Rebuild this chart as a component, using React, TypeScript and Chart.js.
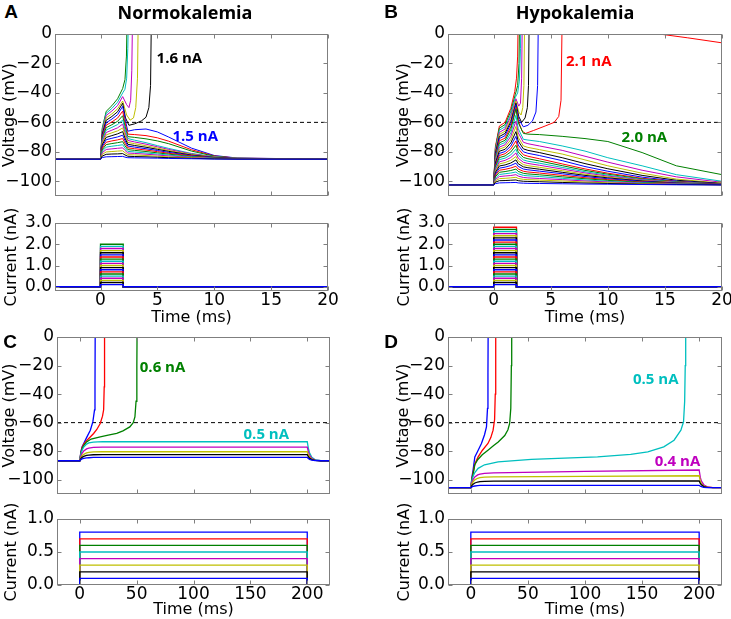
import React, { useEffect, useRef } from "react";
import { Chart, registerables } from "chart.js";
Chart.register(...registerables);

// ---------- styling constants ----------
const TICK_FONT = { family: "'DejaVu Sans', sans-serif", size: 17 };
const TITLE_FONT = { family: "'DejaVu Sans', sans-serif", size: 16 };
const NOTE_FONT = "bold 15px 'Open Sans', sans-serif";
const FRAME_COLOR = "#7f7f7f";
const TEXT_COLOR = "#000000";
// colour order for ascending current steps
const CYCLE = ["#0000ff", "#000000", "#bfbf00", "#bf00bf", "#00bfbf", "#008000", "#ff0000"];

const THRESHOLD = -60;

// ---------- tick labels ----------
const V_TICKS = [0, -20, -40, -60, -80, -100];
const I_TICKS_AB = [0, 1, 2, 3];
const I_TICKS_CD = [0, 0.5, 1];
const T_TICKS_AB = [0, 5, 10, 15, 20];
const T_TICKS_CD = [0, 50, 100, 150, 200];

// ---------- current steps ----------
const A_CURRENTS = [0.1, 0.2, 0.3, 0.4, 0.5, 0.6, 0.7, 0.8, 0.9, 1.0, 1.1, 1.2, 1.3, 1.4, 1.5, 1.6, 1.7, 1.8, 1.9, 2.0];
const B_CURRENTS = [0.1, 0.2, 0.3, 0.4, 0.5, 0.6, 0.7, 0.8, 0.9, 1.0, 1.1, 1.2, 1.3, 1.4, 1.5, 1.6, 1.7, 1.8, 1.9, 2.0, 2.1, 2.2, 2.3, 2.4, 2.5, 2.6, 2.7, 2.8];
const C_CURRENTS = [0.1, 0.2, 0.3, 0.4, 0.5, 0.6, 0.7, 0.8];
const D_CURRENTS = [0.1, 0.2, 0.3, 0.4, 0.5, 0.6, 0.7, 0.8];
const SHORT_PULSE = [0, 2];
const LONG_PULSE = [0, 200];

// ---------- Panel A (normokalemia, 2 ms pulse) ----------
const A_TIMES = [-4, 0, 0.15, 0.5, 1.0, 1.5, 1.95, 2.15, 2.4, 3, 4, 5, 6, 8, 10, 12, 20];
const A_V01 = [-85, -85, -83.9, -83.4, -83.3, -83.2, -83.1, -83.6, -84.0, -84.1, -84.2, -84.3, -84.5, -84.7, -84.9, -85.0, -85];
const A_V02 = [-85, -85, -82.9, -81.7, -81.5, -81.4, -81.2, -82.1, -83.0, -83.2, -83.4, -83.7, -84.0, -84.4, -84.8, -84.9, -85];
const A_V03 = [-85, -85, -81.8, -80.1, -79.8, -79.5, -79.3, -80.6, -81.9, -82.1, -82.5, -83.0, -83.4, -84.1, -84.6, -84.9, -85];
const A_V04 = [-85, -85, -80.7, -78.4, -78.0, -77.6, -77.3, -79.0, -80.8, -81.1, -81.6, -82.2, -82.8, -83.8, -84.5, -84.8, -85];
const A_V05 = [-85, -85, -79.6, -76.8, -76.2, -75.7, -75.2, -77.5, -79.7, -80.1, -80.8, -81.5, -82.2, -83.5, -84.4, -84.8, -85];
const A_V06 = [-85, -85, -78.6, -75.1, -74.4, -73.8, -73.1, -75.8, -78.5, -79.0, -79.8, -80.7, -81.6, -83.2, -84.2, -84.7, -85];
const A_V07 = [-85, -85, -77.5, -73.5, -72.6, -71.9, -71.0, -74.1, -77.3, -77.9, -78.8, -79.9, -81.0, -82.8, -84.1, -84.7, -85];
const A_V08 = [-85, -85, -76.4, -71.8, -70.8, -69.9, -68.7, -72.4, -76.1, -76.8, -77.9, -79.1, -80.4, -82.5, -83.9, -84.6, -85];
const A_V09 = [-85, -85, -75.3, -70.2, -69.0, -67.8, -66.3, -70.6, -74.9, -75.7, -76.9, -78.3, -79.7, -82.2, -83.8, -84.6, -85];
const A_V10 = [-85, -85, -74.3, -68.5, -67.1, -65.8, -63.8, -68.7, -73.6, -74.5, -75.9, -77.5, -79.1, -81.8, -83.6, -84.5, -85];
const A_V11 = [-85, -85, -73.2, -66.9, -65.3, -63.7, -61.2, -66.8, -72.3, -73.3, -74.8, -76.6, -78.4, -81.4, -83.5, -84.5, -85];
const A_V12 = [-85, -85, -72.1, -65.2, -63.4, -61.5, -58.4, -64.7, -71.0, -72.1, -73.8, -75.8, -77.7, -81.1, -83.3, -84.4, -85];
const A_V13 = [-85, -85, -71.1, -63.6, -61.6, -59.3, -55.5, -62.6, -69.7, -70.2, -71.2, -72.6, -74.5, -79.5, -83.0, -84.4, -85];
const A_V14 = [-85, -85, -70.0, -61.9, -59.7, -57.1, -52.4, -60.2, -68.0, -68.3, -69.0, -70.5, -72.8, -78.6, -82.8, -84.3, -85];
const A_V15 = [-85, -85, -68.9, -60.3, -57.8, -54.8, -49.1, -57.5, -66.0, -65.0, -64.5, -66.5, -70.0, -77.5, -82.5, -84.2, -85];
const A_S16 = [[-4, -85], [0, -85], [0.15, -68.0], [0.5, -58.6], [1.0, -56.0], [1.5, -52.8], [1.95, -47.0], [2.2, -57.0], [2.5, -62.0], [3.0, -61.0], [3.6, -59.0], [4.0, -56.5], [4.25, -50], [4.4, -35], [4.5, 30]];
const A_S17 = [[-4, -85], [0, -85], [0.15, -67.0], [0.5, -57.0], [1.0, -54.2], [1.5, -50.8], [1.95, -45.5], [2.3, -55.0], [2.6, -58.5], [2.9, -57.0], [3.1, -50], [3.25, -30], [3.35, 30]];
const A_S18 = [[-4, -85], [0, -85], [0.15, -66.0], [0.5, -55.3], [1.0, -52.3], [1.5, -48.6], [1.95, -42.5], [2.3, -48.0], [2.5, -50.0], [2.65, -45], [2.75, -25], [2.85, 30]];
const A_S19 = [[-4, -85], [0, -85], [0.15, -65.0], [0.5, -53.9], [1.0, -50.5], [1.5, -46.3], [1.95, -40.0], [2.15, -37.5], [2.3, -30], [2.4, -10], [2.5, 30]];
const A_S20 = [[-4, -85], [0, -85], [0.15, -64.0], [0.5, -52.5], [1.0, -48.7], [1.5, -44.0], [1.95, -37.0], [2.15, -31], [2.28, -15], [2.38, 30]];

// ---------- Panel B (hypokalemia, 2 ms pulse) ----------
const B_TIMES = [-4, 0, 0.15, 0.5, 1.0, 1.5, 1.95, 2.15, 2.6, 3, 4, 6, 8, 10, 13, 16, 20];
const B_V01 = [-102.5, -102.5, -101.6, -101.1, -101.0, -100.9, -100.8, -101.1, -101.3, -101.4, -101.5, -101.7, -101.9, -102.0, -102.2, -102.4, -102.5];
const B_V02 = [-102.5, -102.5, -100.6, -99.6, -99.5, -99.3, -99.1, -99.6, -100.0, -100.1, -100.3, -100.8, -101.2, -101.5, -102.0, -102.2, -102.4];
const B_V03 = [-102.5, -102.5, -99.7, -98.2, -98.0, -97.7, -97.3, -98.1, -98.7, -98.9, -99.2, -99.8, -100.5, -101.0, -101.7, -102.1, -102.4];
const B_V04 = [-102.5, -102.5, -98.8, -96.8, -96.4, -96.1, -95.5, -96.5, -97.4, -97.7, -98.1, -98.9, -99.8, -100.5, -101.4, -101.9, -102.4];
const B_V05 = [-102.5, -102.5, -97.9, -95.4, -94.9, -94.4, -93.7, -94.9, -96.0, -96.3, -96.8, -98.0, -99.1, -100.0, -101.1, -101.8, -102.3];
const B_V06 = [-102.5, -102.5, -96.9, -93.9, -93.4, -92.7, -91.7, -93.3, -94.6, -95.0, -95.6, -97.0, -98.3, -99.4, -100.8, -101.6, -102.3];
const B_V07 = [-102.5, -102.5, -96.0, -92.5, -91.9, -91.0, -89.8, -91.7, -93.2, -93.7, -94.4, -96.0, -97.6, -98.9, -100.5, -101.5, -102.2];
const B_V08 = [-102.5, -102.5, -95.1, -91.1, -90.4, -89.3, -87.7, -89.9, -91.7, -92.2, -93.1, -94.9, -96.8, -98.3, -100.1, -101.3, -102.2];
const B_V09 = [-102.5, -102.5, -94.1, -89.6, -88.9, -87.6, -85.5, -88.1, -90.2, -90.8, -91.8, -93.9, -96.0, -97.7, -99.8, -101.2, -102.1];
const B_V10 = [-102.5, -102.5, -93.2, -88.2, -87.3, -85.8, -83.2, -86.2, -88.7, -89.4, -90.5, -92.8, -95.2, -97.1, -99.5, -101.0, -102.1];
const B_V11 = [-102.5, -102.5, -92.3, -86.8, -85.8, -83.9, -80.8, -84.3, -87.1, -87.9, -89.1, -91.7, -94.3, -96.5, -99.1, -100.8, -102.0];
const B_V12 = [-102.5, -102.5, -91.4, -85.3, -84.3, -82.1, -78.2, -82.2, -85.5, -86.4, -87.7, -90.6, -93.5, -95.9, -98.8, -100.6, -102.0];
const B_V13 = [-102.5, -102.5, -90.4, -83.9, -82.8, -80.1, -75.5, -80.1, -83.8, -84.7, -86.2, -89.4, -92.6, -95.2, -98.4, -100.4, -101.9];
const B_V14 = [-102.5, -102.5, -89.5, -82.5, -81.3, -78.1, -72.6, -77.8, -82.0, -83.0, -84.7, -88.2, -91.6, -94.5, -98.0, -100.2, -101.9];
const B_V15 = [-102.5, -102.5, -88.6, -81.1, -79.8, -76.1, -69.5, -75.4, -80.0, -81.0, -82.5, -86.0, -90.0, -93.2, -97.2, -99.9, -101.7];
const B_V16 = [-102.5, -102.5, -87.6, -79.6, -78.3, -74.0, -66.3, -72.7, -78.0, -79.0, -80.5, -84.0, -88.0, -91.5, -96.0, -99.3, -101.5];
const B_V17 = [-102.5, -102.5, -86.7, -78.2, -76.7, -71.8, -62.8, -70.1, -76.0, -77.0, -78.5, -81.5, -85.5, -89.5, -94.5, -98.5, -101.3];
const B_V18 = [-102.5, -102.5, -85.8, -76.8, -75.2, -69.5, -59.1, -67.0, -73.5, -74.5, -76.0, -79.0, -83.0, -87.0, -92.5, -97.0, -100.7];
const B_V19 = [-102.5, -102.5, -84.8, -75.3, -73.7, -67.2, -55.2, -64.2, -71.5, -72.0, -73.0, -76.0, -79.5, -84.0, -89.5, -95.5, -100.0];
const B_V20 = [-102.5, -102.5, -83.9, -73.9, -72.2, -64.8, -51.0, -60.1, -67.5, -68.0, -68.3, -69.5, -71.0, -73.0, -80.5, -89.5, -95.5];
const B_S21 = [[-4, -102.5], [0, -102.5], [0.15, -83.0], [0.5, -72.5], [1.0, -70.7], [1.5, -63.0], [1.95, -50.0], [2.2, -60.0], [2.5, -66.0], [2.8, -67.5], [3.5, -65.5], [4.5, -62.5], [5.3, -60.0], [5.7, -56.0], [5.9, -45.0], [6.05, 40], [10, 22], [14.5, 0], [17, -2.6], [20, -6]];
const B_S22 = [[-4, -102.5], [0, -102.5], [0.15, -82.0], [0.5, -71.0], [1.0, -69.0], [1.5, -61.0], [1.95, -48.0], [2.2, -58.0], [2.6, -63.0], [3.0, -62.0], [3.4, -59.0], [3.7, -53.0], [3.85, -35.0], [3.95, 40]];
const B_S23 = [[-4, -102.5], [0, -102.5], [0.15, -81.0], [0.5, -69.6], [1.0, -67.5], [1.5, -59.5], [1.95, -47.0], [2.2, -56.0], [2.45, -60.0], [2.75, -57.0], [2.95, -50.0], [3.05, -35.0], [3.15, 40]];
const B_S24 = [[-4, -102.5], [0, -102.5], [0.15, -80.2], [0.5, -68.2], [1.0, -66.0], [1.5, -58.0], [1.95, -45.5], [2.2, -53.0], [2.4, -55.0], [2.55, -50.0], [2.65, -35.0], [2.75, 40]];
const B_S25 = [[-4, -102.5], [0, -102.5], [0.15, -79.3], [0.5, -66.8], [1.0, -64.5], [1.5, -56.0], [1.95, -44.0], [2.2, -49.0], [2.35, -47.0], [2.45, -30.0], [2.55, 40]];
const B_S26 = [[-4, -102.5], [0, -102.5], [0.15, -78.3], [0.5, -65.3], [1.0, -63.0], [1.5, -54.5], [1.9, -43.0], [2.1, -40.0], [2.25, -32.0], [2.35, -10.0], [2.42, 40]];
const B_S27 = [[-4, -102.5], [0, -102.5], [0.15, -77.4], [0.5, -63.9], [1.0, -61.5], [1.5, -52.5], [1.9, -41.0], [2.1, -35.0], [2.22, -20.0], [2.32, 40]];
const B_S28 = [[-4, -102.5], [0, -102.5], [0.15, -76.5], [0.5, -62.5], [1.0, -60.0], [1.5, -50.5], [1.85, -39.0], [2.0, -30.0], [2.1, -15.0], [2.2, 40]];

// ---------- Panels C and D (200 ms pulse) ----------
const CD_TIMES = [-20, 0, 1, 2, 3.5, 6, 8, 12, 20, 100, 200, 201, 202, 204, 207, 212, 220];
const C_V01 = [-86.7, -86.7, -85.9, -85.4, -85.0, -84.7, -84.6, -84.4, -84.4, -84.4, -84.4, -85.2, -85.7, -86.3, -86.6, -86.7, -86.7];
const C_V02 = [-86.7, -86.7, -85.2, -84.3, -83.6, -83.0, -82.7, -82.5, -82.4, -82.4, -82.4, -83.9, -84.9, -85.9, -86.5, -86.7, -86.7];
const C_V03 = [-86.7, -86.7, -84.5, -83.2, -82.2, -81.2, -80.8, -80.5, -80.4, -80.4, -80.4, -82.6, -84.1, -85.6, -86.4, -86.7, -86.7];
const C_V04 = [-86.7, -86.7, -83.4, -81.5, -79.9, -78.4, -77.9, -77.4, -77.2, -77.2, -77.2, -80.5, -82.7, -85.0, -86.2, -86.7, -86.7];
const C_V05 = [-86.7, -86.7, -82.0, -79.3, -77.1, -75.0, -74.2, -73.6, -73.3, -73.4, -73.3, -78.0, -81.1, -84.3, -86.0, -86.7, -86.7];
const C_S06 = [[-20, -86.7], [0, -86.7], [1, -81.5], [2, -78.5], [3.5, -76.0], [6, -73.5], [10, -71.5], [18, -70.0], [25, -68.8], [32.5, -67.5], [38, -65.8], [44, -63.0], [47, -60.0], [48.5, -56.0], [49.5, -45.0], [50.2, -20.0], [50.6, 30]];
const C_S07 = [[-20, -86.7], [0, -86.7], [1, -81.0], [2, -77.5], [3.5, -75.0], [6.4, -72.3], [9, -70.2], [12.2, -67.6], [15, -64.8], [18, -60.6], [20, -55.5], [21, -51.0], [21.5, -35.0], [21.8, 30]];
const C_S08 = [[-20, -86.7], [0, -86.7], [1, -80.5], [2, -77.0], [3.5, -74.6], [6, -70.5], [9.3, -65.3], [11.5, -59.5], [13, -51.0], [13.4, -35.0], [13.7, 30]];

const D_V01 = [-105.6, -105.6, -105.0, -104.7, -104.4, -104.1, -104.0, -103.9, -103.9, -103.9, -103.9, -104.5, -104.9, -105.3, -105.5, -105.6, -105.6];
const D_V02 = [-105.6, -105.6, -104.0, -103.1, -102.3, -101.6, -101.3, -101.1, -101.0, -100.9, -100.8, -102.6, -103.6, -104.8, -105.4, -105.6, -105.6];
const D_V03 = [-105.6, -105.6, -102.9, -101.4, -100.1, -99.0, -98.5, -98.2, -98.0, -97.6, -97.2, -100.9, -102.9, -104.4, -105.2, -105.6, -105.6];
const D_V04 = [-105.6, -105.6, -101.8, -99.8, -98.0, -96.6, -96.0, -95.5, -95.2, -94.2, -93.2, -98.4, -101.0, -103.5, -104.9, -105.6, -105.6];
const D_S05 = [[-20, -105.6], [0, -105.6], [1, -100.5], [2, -97.5], [3.5, -95.0], [6.4, -92.0], [12, -89.5], [23.9, -87.5], [53, -85.8], [111, -84.0], [140, -82.2], [155, -80.5], [169, -77.0], [178, -72.3], [184, -65.3], [186.3, -59.4], [187.3, -45.0], [187.8, -20.0], [188.2, 30]];
const D_S06 = [[-20, -105.6], [0, -105.6], [1, -99.5], [2, -96.0], [3.5, -89.5], [6, -86.0], [10, -82.5], [15, -79.3], [20, -76.0], [24, -73.5], [29.7, -69.0], [32.5, -65.0], [34, -60.6], [35, -50.0], [35.5, -20.0], [35.8, 30]];
const D_S07 = [[-20, -105.6], [0, -105.6], [1, -99.0], [2, -95.0], [3.5, -89.0], [6.4, -84.0], [10, -79.5], [15, -74.6], [17.5, -70.5], [19.5, -65.3], [20.8, -58.0], [21.4, -40.0], [21.8, 30]];
const D_S08 = [[-20, -105.6], [0, -105.6], [1, -98.0], [2, -93.0], [3.5, -84.0], [6, -80.0], [9.3, -74.6], [12, -68.5], [13.7, -63.0], [14.6, -50.0], [15.0, -25.0], [15.3, 30]];

// ---------- annotations [x, y, text, colour] ----------
const A_NOTES = [[6.93, -16.9, "1.6 nA", "#000000"], [8.33, -69.6, "1.5 nA", "#0000ff"]];
const B_NOTES = [[8.33, -18.9, "2.1 nA", "#ff0000"], [13.2, -70.3, "2.0 nA", "#008000"]];
const C_NOTES = [[72.8, -21.8, "0.6 nA", "#008000"], [164, -68.8, "0.5 nA", "#00bfbf"]];
const D_NOTES = [[162, -30.2, "0.5 nA", "#00bfbf"], [181, -87.7, "0.4 nA", "#bf00bf"]];

// ---------- helpers ----------
type Pt = { x: number; y: number };
const rowPts = (times: number[], vals: number[]): Pt[] => times.map((t, i) => ({ x: t, y: vals[i] }));
const pairPts = (p: number[][]): Pt[] => p.map(([x, y]) => ({ x, y }));
const stepPts = (level: number, pulse: number[], xMin: number, xMax: number): Pt[] => [
  { x: xMin, y: 0 }, { x: pulse[0], y: 0 }, { x: pulse[0], y: level },
  { x: pulse[1], y: level }, { x: pulse[1], y: 0 }, { x: xMax, y: 0 },
];

const vFmt = (v: number) => (v < 0 ? "\u2212" + Math.abs(v) : String(v));
const iFmt = (v: number) => v.toFixed(1);
const tFmt = (v: number) => String(v);

function voltageSets(traces: Pt[][], lw: number, xMin: number, xMax: number) {
  const ds: any[] = traces.map((pts, i) => ({
    data: pts, borderColor: CYCLE[i % 7], borderWidth: lw, pointRadius: 0, tension: 0, fill: false,
  }));
  ds.push({
    data: [{ x: xMin, y: THRESHOLD }, { x: xMax, y: THRESHOLD }],
    borderColor: "#000000", borderWidth: 1, borderDash: [4, 3], pointRadius: 0, fill: false,
  });
  return ds;
}
function currentSets(levels: number[], pulse: number[], xMin: number, xMax: number) {
  return levels.map((lv, i) => ({
    data: stepPts(lv, pulse, xMin, xMax), borderColor: CYCLE[i % 7], borderWidth: 1.3, pointRadius: 0, tension: 0, fill: false,
  }));
}

const framePlugin = {
  id: "frame",
  afterDatasetsDraw(chart: any) {
    const { ctx, chartArea: a, scales } = chart;
    const L = Math.round(a.left) + 0.5, R = Math.round(a.right) - 0.5;
    const T = Math.round(a.top) + 0.5, B = Math.round(a.bottom) - 0.5;
    ctx.save();
    ctx.strokeStyle = FRAME_COLOR;
    ctx.lineWidth = 1;
    ctx.strokeRect(L, T, R - L, B - T);
    const tl = 4;
    ctx.beginPath();
    for (const t of scales.x.ticks) {
      const px = Math.round(scales.x.getPixelForValue(t.value)) + 0.5;
      ctx.moveTo(px, B); ctx.lineTo(px, B - tl);
      ctx.moveTo(px, T); ctx.lineTo(px, T + tl);
    }
    for (const t of scales.y.ticks) {
      const py = Math.round(scales.y.getPixelForValue(t.value)) + 0.5;
      ctx.moveTo(L, py); ctx.lineTo(L + tl, py);
      ctx.moveTo(R, py); ctx.lineTo(R - tl, py);
    }
    ctx.stroke();
    ctx.restore();
  },
};
function notesPlugin(notes: any[]) {
  return {
    id: "notes",
    afterDatasetsDraw(chart: any) {
      const { ctx, scales } = chart;
      ctx.save();
      ctx.font = NOTE_FONT;
      ctx.textAlign = "center";
      ctx.textBaseline = "middle";
      for (const [x, y, text, color] of notes) {
        ctx.fillStyle = color;
        ctx.fillText(text, scales.x.getPixelForValue(x), scales.y.getPixelForValue(y));
      }
      ctx.restore();
    },
  };
}

type Spec = {
  area: [number, number, number, number]; // l, t, r, b (page px)
  padL: number; padT: number; padR: number; axisH: number;
  x: [number, number]; y: [number, number];
  xTicks: number[]; yTicks: number[];
  xLabels: boolean; xTitle: string; yTitle: string; yTitlePad: number;
  yFmt: (v: number) => string; datasets: any[]; notes: any[];
};

function SubChart({ s }: { s: Spec }) {
  const ref = useRef<HTMLCanvasElement>(null);
  const [l, t, r, b] = s.area;
  const w = s.padL + (r - l) + s.padR;
  const h = s.padT + (b - t) + s.axisH;
  useEffect(() => {
    const font = TICK_FONT;
    const chart = new Chart(ref.current as HTMLCanvasElement, {
      type: "line",
      data: { datasets: s.datasets },
      options: {
        responsive: false,
        animation: false,
        events: [],
        layout: { padding: { left: 0, top: s.padT, right: s.padR, bottom: 0 } },
        plugins: { legend: { display: false }, tooltip: { enabled: false } },
        scales: {
          x: {
            type: "linear", min: s.x[0], max: s.x[1],
            afterBuildTicks: (sc: any) => { sc.ticks = s.xTicks.map((v) => ({ value: v })); },
            afterFit: (sc: any) => { sc.height = s.axisH; sc.paddingLeft = 0; sc.paddingRight = 0; },
            grid: { display: false, drawTicks: false },
            border: { display: false },
            ticks: { display: s.xLabels, padding: -1, font, color: TEXT_COLOR, maxRotation: 0, autoSkip: false, callback: (v: any) => tFmt(Number(v)) },
            title: { display: !!s.xTitle, text: s.xTitle, font: TITLE_FONT, color: TEXT_COLOR, padding: { top: 0, bottom: 0 } },
          },
          y: {
            type: "linear", min: s.y[0], max: s.y[1],
            afterBuildTicks: (sc: any) => { sc.ticks = s.yTicks.map((v) => ({ value: v })); },
            afterFit: (sc: any) => { sc.width = s.padL; sc.paddingTop = 0; sc.paddingBottom = 0; },
            grid: { display: false, drawTicks: false },
            border: { display: false },
            ticks: { padding: 3, font, color: TEXT_COLOR, autoSkip: false, callback: (v: any) => s.yFmt(Number(v)) },
            title: { display: true, text: s.yTitle, font: TITLE_FONT, color: TEXT_COLOR, padding: { top: s.yTitlePad, bottom: 0 } },
          },
        },
      } as any,
      plugins: [framePlugin, notesPlugin(s.notes)],
    } as any);
    return () => chart.destroy();
  }, []);
  return (
    <canvas ref={ref} width={w} height={h}
      style={{ position: "absolute", left: l - s.padL, top: t - s.padT, width: w, height: h }} />
  );
}

// ---------- assemble the eight subplots ----------
const aTraces = [A_V01, A_V02, A_V03, A_V04, A_V05, A_V06, A_V07, A_V08, A_V09, A_V10, A_V11, A_V12, A_V13, A_V14, A_V15]
  .map((r) => rowPts(A_TIMES, r)).concat([A_S16, A_S17, A_S18, A_S19, A_S20].map(pairPts));
const bTraces = [B_V01, B_V02, B_V03, B_V04, B_V05, B_V06, B_V07, B_V08, B_V09, B_V10, B_V11, B_V12, B_V13, B_V14, B_V15, B_V16, B_V17, B_V18, B_V19, B_V20]
  .map((r) => rowPts(B_TIMES, r)).concat([B_S21, B_S22, B_S23, B_S24, B_S25, B_S26, B_S27, B_S28].map(pairPts));
const cTraces = [C_V01, C_V02, C_V03, C_V04, C_V05].map((r) => rowPts(CD_TIMES, r)).concat([C_S06, C_S07, C_S08].map(pairPts));
const dTraces = [D_V01, D_V02, D_V03, D_V04].map((r) => rowPts(CD_TIMES, r)).concat([D_S05, D_S06, D_S07, D_S08].map(pairPts));

const XAB: [number, number] = [-4, 20];
const XCD: [number, number] = [-20, 220];
const VY: [number, number] = [-110, 0];

const SPECS: Spec[] = [
  { area: [55, 34, 328, 196], padL: 55, padT: 12, padR: 10, axisH: 2, x: XAB, y: VY, xTicks: T_TICKS_AB, yTicks: V_TICKS,
    xLabels: false, xTitle: "", yTitle: "Voltage (mV)", yTitlePad: 0, yFmt: vFmt, datasets: voltageSets(aTraces, 1, XAB[0], XAB[1]), notes: A_NOTES },
  { area: [55, 223, 328, 291], padL: 55, padT: 34, padR: 10, axisH: 36, x: XAB, y: [-0.2, 3], xTicks: T_TICKS_AB, yTicks: I_TICKS_AB,
    xLabels: true, xTitle: "Time (ms)", yTitle: "Current (nA)", yTitlePad: 2, yFmt: iFmt, datasets: currentSets(A_CURRENTS, SHORT_PULSE, XAB[0], XAB[1]), notes: [] },
  { area: [448, 34, 722, 196], padL: 54, padT: 12, padR: 9, axisH: 2, x: XAB, y: VY, xTicks: T_TICKS_AB, yTicks: V_TICKS,
    xLabels: false, xTitle: "", yTitle: "Voltage (mV)", yTitlePad: 0, yFmt: vFmt, datasets: voltageSets(bTraces, 1, XAB[0], XAB[1]), notes: B_NOTES },
  { area: [448, 223, 722, 291], padL: 54, padT: 34, padR: 9, axisH: 36, x: XAB, y: [-0.2, 3], xTicks: T_TICKS_AB, yTicks: I_TICKS_AB,
    xLabels: true, xTitle: "Time (ms)", yTitle: "Current (nA)", yTitlePad: 1, yFmt: iFmt, datasets: currentSets(B_CURRENTS, SHORT_PULSE, XAB[0], XAB[1]), notes: [] },
  { area: [57, 337, 330, 494], padL: 57, padT: 12, padR: 10, axisH: 2, x: XCD, y: VY, xTicks: T_TICKS_CD, yTicks: V_TICKS,
    xLabels: false, xTitle: "", yTitle: "Voltage (mV)", yTitlePad: 0, yFmt: vFmt, datasets: voltageSets(cTraces, 1.3, XCD[0], XCD[1]), notes: C_NOTES },
  { area: [57, 519, 330, 585], padL: 57, padT: 34, padR: 10, axisH: 34, x: XCD, y: [0, 1], xTicks: T_TICKS_CD, yTicks: I_TICKS_CD,
    xLabels: true, xTitle: "Time (ms)", yTitle: "Current (nA)", yTitlePad: 2, yFmt: iFmt, datasets: currentSets(C_CURRENTS, LONG_PULSE, XCD[0], XCD[1]), notes: [] },
  { area: [448, 337, 722, 494], padL: 54, padT: 12, padR: 9, axisH: 2, x: XCD, y: VY, xTicks: T_TICKS_CD, yTicks: V_TICKS,
    xLabels: false, xTitle: "", yTitle: "Voltage (mV)", yTitlePad: 0, yFmt: vFmt, datasets: voltageSets(dTraces, 1.3, XCD[0], XCD[1]), notes: D_NOTES },
  { area: [448, 519, 722, 585], padL: 54, padT: 34, padR: 9, axisH: 34, x: XCD, y: [0, 1], xTicks: T_TICKS_CD, yTicks: I_TICKS_CD,
    xLabels: true, xTitle: "Time (ms)", yTitle: "Current (nA)", yTitlePad: 1, yFmt: iFmt, datasets: currentSets(D_CURRENTS, LONG_PULSE, XCD[0], XCD[1]), notes: [] },
];

const LABELS: [string, number, number, string][] = [
  ["A", 11, 11, "letter"], ["Normokalemia", 185, 12, "title"],
  ["B", 391, 11, "letter"], ["Hypokalemia", 575, 12, "title"],
  ["C", 10, 341, "letter"], ["D", 391, 341, "letter"],
];

export default function App() {
  return (
    <div style={{ position: "absolute", left: 0, top: 0, width: 731, height: 619, background: "#fff", overflow: "hidden" }}>
      {SPECS.map((s, i) => <SubChart key={i} s={s} />)}
      {LABELS.map(([text, x, y, kind], i) => (
        <div key={"l" + i} style={{
          position: "absolute", left: x, top: y, transform: "translate(-50%, -50%)", whiteSpace: "nowrap", lineHeight: 1,
          fontFamily: kind === "letter" ? "'Liberation Sans', Arial, sans-serif" : "'Open Sans', sans-serif",
          fontWeight: 700, fontSize: kind === "letter" ? 19 : 18, color: "#000",
        }}>{text}</div>
      ))}
    </div>
  );
}
